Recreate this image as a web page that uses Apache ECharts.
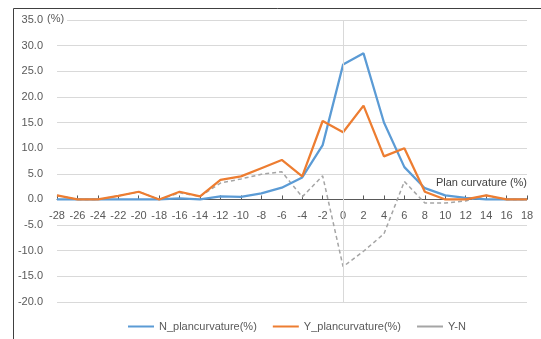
<!DOCTYPE html>
<html><head><meta charset="utf-8">
<script src="https://cdn.jsdelivr.net/npm/echarts@6/dist/echarts.min.js"></script>
<style>html,body{margin:0;padding:0;background:#fff}#c{width:541px;height:339px}</style>
</head><body><div id="c"></div>
<script>
const categories = ['-28','-26','-24','-22','-20','-18','-16','-14','-12','-10','-8','-6','-4','-2','0','2','4','6','8','10','12','14','16','18'];
const nPlan = [0,0,0,0,0,0,0.2,0,0.6,0.5,1.2,2.3,4.3,10.6,26.3,28.5,15.0,6.3,2.2,0.8,0.3,0,0,0];
const yPlan = [0.8,0,0,0.7,1.5,0,1.5,0.6,3.8,4.5,6.1,7.7,4.5,15.3,13.1,18.3,8.4,10.0,1.5,0,0,0.8,0,0];
const yMinusN = [0.8,0,0,0.7,1.5,0,1.3,0.6,3.2,4.0,4.9,5.4,0.5,4.6,-13.1,-10.1,-6.7,3.5,-0.7,-0.7,-0.3,0.8,0,0];
const seriesNames = ['N_plancurvature(%)','Y_plancurvature(%)','Y-N'];
const font = 'Liberation Sans, Noto Sans, sans-serif';
const yMin = -20, yMax = 35;
const gridTop = 20, gridBottom = 37, H = 339;
const plotH = H - gridTop - gridBottom;
const zeroOffset = -(plotH * (0 - yMin) / (yMax - yMin));
const chart = echarts.init(document.getElementById('c'));
chart.setOption({
  animation:false,
  textStyle:{fontFamily:font},
  grid:{left:57,right:14,top:gridTop,bottom:gridBottom,containLabel:false},
  legend:{left:123,top:316,itemWidth:26,itemHeight:2,itemGap:16,icon:'rect',
    textStyle:{color:'#595959',fontSize:11,fontFamily:font},
    data:[{name:seriesNames[0]},{name:seriesNames[1]},{name:seriesNames[2],itemStyle:{color:'#A5A5A5'}}]},
  xAxis:{type:'category',data:categories,boundaryGap:false,position:'bottom',offset:zeroOffset,
    axisLine:{onZero:false,lineStyle:{color:'#595959',width:1}},
    axisTick:{inside:true,length:4,alignWithLabel:true,lineStyle:{color:'#595959'}},
    axisLabel:{color:'#595959',fontSize:11,margin:11,interval:0,fontFamily:font,backgroundColor:'#fff'},
    splitLine:{show:false}},
  yAxis:{type:'value',min:yMin,max:yMax,interval:5,
    axisLine:{show:false},axisTick:{show:false},
    axisLabel:{color:'#595959',fontSize:11,margin:14,fontFamily:font,formatter:v=>v.toFixed(1)},
    splitLine:{lineStyle:{color:'#D9D9D9',width:1}}},
  series:[
    {name:seriesNames[0],type:'line',data:nPlan,symbol:'none',lineStyle:{color:'#5B9BD5',width:2.25},itemStyle:{color:'#5B9BD5'},
     markLine:{silent:true,symbol:'none',label:{show:false},lineStyle:{color:'#D9D9D9',type:'solid',width:1},data:[{xAxis:'0'}]},z:3},
    {name:seriesNames[1],type:'line',data:yPlan,symbol:'none',lineStyle:{color:'#ED7D31',width:2.25},itemStyle:{color:'#ED7D31'},z:4},
    {name:seriesNames[2],type:'line',data:yMinusN,symbol:'none',lineStyle:{color:'#A5A5A5',width:1.5,type:[4,3]},itemStyle:{color:'#A5A5A5'},z:2}
  ],
  graphic:[
    {type:'line',shape:{x1:13.5,y1:8.5,x2:541,y2:8.5},style:{stroke:'#404040',lineWidth:1},silent:true},
    {type:'line',shape:{x1:13.5,y1:8.5,x2:13.5,y2:339},style:{stroke:'#404040',lineWidth:1},silent:true},
    {type:'text',left:47,top:13,style:{text:'(%)',fill:'#595959',font:'11px '+font,backgroundColor:'#fff',padding:[0,3,0,0]},z:10},
    {type:'text',right:14,top:177,style:{text:'Plan curvature (%)',fill:'#404040',font:'11px '+font},z:10}
  ]
});
</script></body></html>
